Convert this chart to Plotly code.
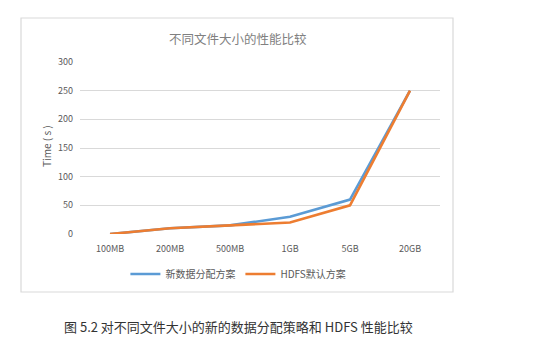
import plotly.graph_objects as go

# File sizes tested and the measured completion time (seconds) for each scheme
sizes = ["100MB", "200MB", "500MB", "1GB", "5GB", "20GB"]
new_scheme = [0, 10, 15, 30, 60, 250]
hdfs_default = [0, 10, 15, 20, 50, 250]
y_ticks = [0, 50, 100, 150, 200, 250, 300]

CJK = "Noto Sans CJK SC"
L, R, T, B = 80, 112, 62, 107
W, H = 552, 341
PW, PH = W - L - R, H - T - B


def px_x(px):
    return (px - L) / PW


def px_y(py):
    return (H - B - py) / PH


fig = go.Figure()
fig.add_trace(go.Scatter(x=sizes, y=new_scheme, mode="lines", name="新数据分配方案",
                         line=dict(color="#5B9BD5", width=2.6)))
fig.add_trace(go.Scatter(x=sizes, y=hdfs_default, mode="lines", name="HDFS默认方案",
                         line=dict(color="#ED7D31", width=2.6)))

fig.update_layout(
    width=W, height=H,
    margin=dict(l=L, r=R, t=T, b=B),
    paper_bgcolor="white", plot_bgcolor="white",
    font=dict(family=CJK, size=9, color="#595959"),
    xaxis=dict(range=[-0.5, 5.5], showgrid=False, zeroline=False, showline=False,
               ticks="", ticklabelstandoff=8, tickfont=dict(size=9, color="#595959")),
    yaxis=dict(range=[0, 300], tickvals=y_ticks, showgrid=True, gridcolor="#d9d9d9",
               gridwidth=1, zeroline=False, showline=False, ticks="",
               ticklabelstandoff=6, tickfont=dict(size=9, color="#595959")),
    showlegend=True,
    legend=dict(orientation="h", x=0.44, xanchor="center", y=px_y(274), yanchor="middle",
                font=dict(family=CJK, size=10, color="#595959"), itemwidth=30,
                bgcolor="rgba(0,0,0,0)"),
)

# chart frame
fig.add_shape(type="rect", xref="paper", yref="paper",
              x0=px_x(21), x1=px_x(453), y0=px_y(292), y1=px_y(18),
              line=dict(color="#d9d9d9", width=1.2), layer="below")

# chart title
fig.add_annotation(text="不同文件大小的性能比较", xref="paper", yref="paper",
                   x=px_x(238), y=px_y(38), xanchor="center", yanchor="middle",
                   showarrow=False, font=dict(family=CJK, size=12.5, color="#808080"))

# y-axis title
fig.add_annotation(text="Time ( s )", xref="paper", yref="paper",
                   x=px_x(46), y=px_y(146), xanchor="center", yanchor="middle",
                   showarrow=False, textangle=-90,
                   font=dict(family=CJK, size=10, color="#595959"))

# figure caption
fig.add_annotation(text="图 5.2 对不同文件大小的新的数据分配策略和 HDFS 性能比较",
                   xref="paper", yref="paper", x=px_x(238), y=px_y(326),
                   xanchor="center", yanchor="middle", showarrow=False,
                   font=dict(family=CJK, size=13, color="#333333"))

fig.write_html("out.html")
